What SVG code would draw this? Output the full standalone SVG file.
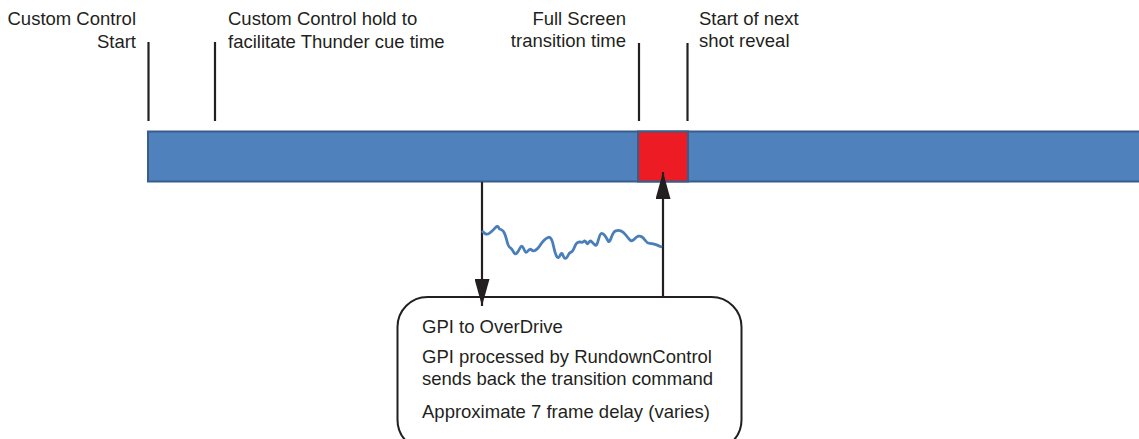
<svg xmlns="http://www.w3.org/2000/svg" width="1139" height="439" viewBox="0 0 1139 439">
<style>
.t{font-family:"Liberation Sans",Arial,sans-serif;font-size:18.5px;fill:#231f20}
.r{text-anchor:end}
.tick{stroke:#231f20;stroke-width:2.2;fill:none}
.conn{stroke:#231f20;stroke-width:2.2;fill:none}
</style>
<defs>
<marker id="ah" viewBox="0 0 27 15" refX="27" refY="7.5" markerWidth="27" markerHeight="15" markerUnits="userSpaceOnUse" orient="auto">
<path d="M0,0 L27,7.5 L0,15 Z" fill="#231f20"/>
</marker>
</defs>
<rect width="1139" height="439" fill="#ffffff"/>
<g id="timeline">
<rect x="148" y="131.5" width="1000" height="50" fill="#4f81bd" stroke="#385d8a" stroke-width="2"/>
</g>
<g id="transition-block">
<rect x="638" y="131.5" width="50" height="50" fill="#ed1c24" stroke="#385d8a" stroke-width="2"/>
</g>
<g id="marker-start">
<line class="tick" x1="148.5" y1="42" x2="148.5" y2="121"/>
<text class="t r" x="136" y="25">Custom Control</text>
<text class="t r" x="136" y="48">Start</text>
</g>
<g id="marker-hold">
<line class="tick" x1="215" y1="42" x2="215" y2="121"/>
<text class="t" x="228" y="25">Custom Control hold to</text>
<text class="t" x="228" y="48">facilitate Thunder cue time</text>
</g>
<g id="marker-fullscreen">
<line class="tick" x1="639" y1="43" x2="639" y2="121"/>
<text class="t r" x="626" y="25">Full Screen</text>
<text class="t r" x="626" y="47">transition time</text>
</g>
<g id="marker-next">
<line class="tick" x1="687.5" y1="43" x2="687.5" y2="121"/>
<text class="t" x="699" y="25">Start of next</text>
<text class="t" x="699" y="47">shot reveal</text>
</g>
<g id="gpi-box">
<rect x="397.5" y="297" width="344" height="153" rx="30" ry="30" fill="#ffffff" stroke="#231f20" stroke-width="2"/>
<text class="t" x="422" y="333">GPI to OverDrive</text>
<text class="t" x="422" y="363">GPI processed by RundownControl</text>
<text class="t" x="422" y="385">sends back the transition command</text>
<text class="t" x="422" y="418">Approximate 7 frame delay (varies)</text>
</g>
<g id="connectors">
<line class="conn" x1="482" y1="182" x2="482" y2="306" marker-end="url(#ah)"/>
<line class="conn" x1="663" y1="297" x2="663" y2="172" marker-end="url(#ah)"/>
<path fill="none" stroke="#4a7ebb" stroke-width="2.8" stroke-linejoin="round" stroke-linecap="round" d="M482.7,231.7 L484.7,233.35 Q486.7,235 489.2,233.35 Q491.7,231.7 494.7,228.35 Q497.7,225 498.5,227.15 Q499.3,229.3 500.5,229.3 Q501.7,229.3 503.35,231.3 Q505,233.3 506.65,240 Q508.3,246.7 510,247.5 Q511.7,248.3 513.35,251.65 Q515,255 516.65,253.35 Q518.3,251.7 520,248 Q521.7,244.3 523.35,248 Q525,251.7 525.85,252.2 Q526.7,252.7 528.35,250.5 Q530,248.3 531.65,250 Q533.3,251.7 535.8,250 Q538.3,248.3 540,245.5 Q541.7,242.7 543.85,240.5 Q546,238.3 548,237.5 Q550,236.7 551.35,239.2 Q552.7,241.7 553.85,247.5 Q555,253.3 556.65,256.3 Q558.3,259.3 560,255.5 Q561.7,251.7 562.85,255 Q564,258.3 565.35,258.3 Q566.7,258.3 568,255.5 Q569.3,252.7 571,252.2 Q572.7,251.7 574.35,247.5 Q576,243.3 577.65,242.5 Q579.3,241.7 581,242.2 Q582.7,242.7 583.85,241.35 Q585,240 586.15,242.5 Q587.3,245 588.65,242.5 Q590,240 591.65,241.65 Q593.3,243.3 595,245 Q596.7,246.7 598.35,240 Q600,233.3 601.65,233.3 Q603.3,233.3 605,235.8 Q606.7,238.3 608,240.8 Q609.3,243.3 611.3,237.5 Q613.3,231.7 615.8,230.85 Q618.3,230 620.8,230.85 Q623.3,231.7 625.8,235 Q628.3,238.3 630,240 Q631.7,241.7 634.2,239.2 Q636.7,236.7 638.35,236.2 Q640,235.7 641.65,236.7 Q643.3,237.7 645.3,240.5 Q647.3,243.3 649.5,243.3 Q651.7,243.3 654.2,244.15 Q656.7,245 658.85,245.85 L661,246.7"/>
</g>
</svg>
